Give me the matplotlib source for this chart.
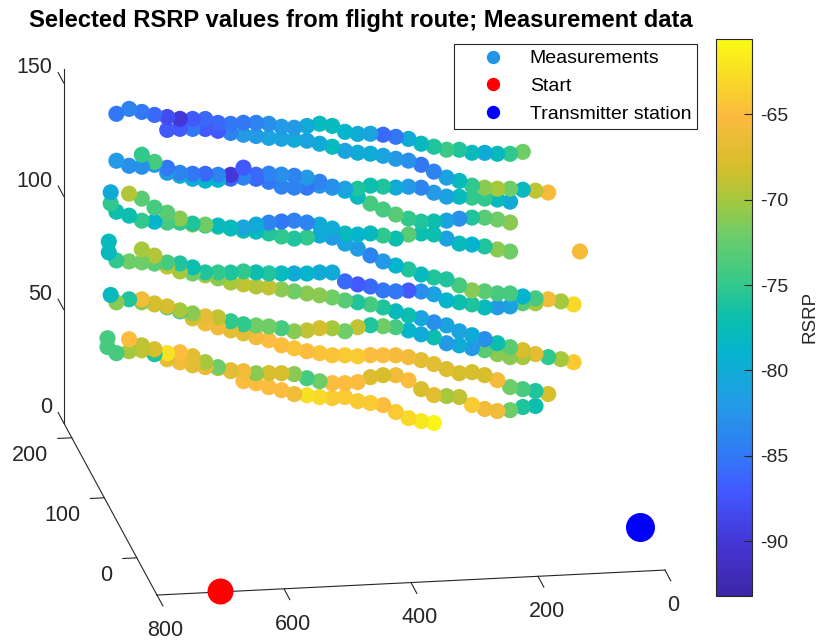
import numpy as np
import matplotlib
matplotlib.use('Agg')
import matplotlib.pyplot as plt
from matplotlib.colors import LinearSegmentedColormap
from matplotlib.lines import Line2D

plt.rcParams['font.family'] = ['Liberation Sans', 'DejaVu Sans']

# along-track position shared by the passes
x_pos = [800, 780, 760, 740, 720, 700, 680, 660, 640, 620, 600, 580, 560, 540, 520, 500, 480, 460, 440, 420,
         400, 380, 360, 340, 320, 300, 280, 260, 240, 220, 200, 180, 160, 140, 120, 100, 80, 60, 40, 20, 0]
y_route = 180

# index in x_pos where each pass begins, altitude and RSRP per pass
start_1 = 3
z_1 = [147.4, 149.3, 147.7, 146.1, 144.9, 143.8, 143.5, 143.2, 141.2, 140.5, 140.7, 140.4, 139.7, 138.1, 137.4, 137.9, 138.6,
       137.4, 134.5, 133.3, 133.1, 132.4, 131.2, 130, 127.6, 126, 124.4, 124.1, 122.5, 122.2, 121.5, 121.2, 121.8]
c_1 = [-85, -84, -85, -86, -88, -90, -87, -86, -86, -85, -85, -84, -83, -82, -82, -80, -78,
       -78, -79, -80, -81, -86, -85, -80, -78, -76, -74.5, -76, -78, -80, -78, -75, -72]
start_2 = 7
z_2 = [139.2, 139.4, 139.1, 138.8, 137.7, 136.5, 135.4, 134.6, 133.5, 132.8, 132.1, 131.4, 129.8, 128.2, 126.1, 125, 124.3,
       123.1, 121.5, 120.4, 118.3, 115, 112.1, 110.4, 108, 106.8, 106.1, 105.8, 105.1, 104.4, 103.3]
c_2 = [-87, -87, -85, -87, -87, -84, -82, -82, -81, -81, -80, -81, -80, -78, -81, -80, -80,
       -81, -82, -83, -85, -84, -81, -78, -75, -71, -70, -72, -78, -69, -65.5]
start_3 = 3
z_3 = [126.7, 124.2, 123.5, 124.1, 122.5, 120, 119.3, 119, 118.3, 118, 120.9, 117.5, 117.7, 117, 116.2, 115.1, 113,
       110.6, 109.4, 109.1, 110.2, 109.5, 108.8, 108.9, 108.2, 105.7, 103.7, 103.4, 102.7, 102, 101.3, 100.1]
c_3 = [-82, -83, -83, -82, -85, -84, -85, -86, -84, -90, -87, -86, -84, -83, -84, -82, -84,
       -83, -81, -76, -77, -76, -80, -82, -84, -82, -81, -78, -75, -75, -78, -80]
start_4 = 5
z_4 = [128.8, 125.4, 120.3, 118.7, 117.1, 116, 116.1, 116.3, 116.5, 115.7, 114.1, 111.7, 111, 110.7, 111.3,
       110.1, 108.5, 105.6, 102.3, 99.4, 96.9, 94.8, 93.2, 93, 93.1, 93.7, 93.9, 93.6, 92.5, 90.9]
c_4 = [-75, -74, -82, -80, -80, -79, -79, -86, -84, -86, -85, -84, -84, -85, -83,
       -81, -79, -78, -74, -74, -73, -75, -76, -77, -81, -83, -76, -73, -72, -71]
start_5 = 3
z_5 = [104.2, 102.2, 99.7, 99, 98.3, 98, 97.3, 96.6, 95.9, 94.7, 94.5, 95.5, 96.1, 96.3, 96.4, 95.3, 94.1,
       92.1, 89.6, 88.9, 89.1, 87.9, 86.3, 87.8, 88, 87.3, 85.2, 82.7, 82, 80.9, 79.3, 78.1]
c_5 = [-77, -77, -75, -79, -74, -75, -76, -72, -78, -78, -81, -80, -84, -85, -84, -84, -80,
       -80, -78, -79, -78, -75, -77, -73, -77, -77, -81, -78, -79, -76, -71, -72]
start_6 = 4
z_6 = [111.9, 109.4, 105.2, 102.7, 99.8, 96.9, 96.2, 95.4, 94.3, 93.1, 92.4, 91.3, 89.7, 88.5, 88.7, 89.3, 88.1, 85.2,
       82.7, 79.4, 76.5, 74.4, 72.4, 69.9, 68.3, 67.2, 64.3, 61.8, 61.1, 59.9, 59.6, 58, 56.9, 56.2, 55, 53.4]
c_6 = [-69.5, -73, -74, -73, -71, -70, -76, -75, -76, -77, -78, -76, -75, -76, -75, -80, -82, -81,
       -82, -84, -82, -79, -76, -78, -76, -76, -74, -71, -73, -74, -74, -79, -74, -66, -70, -63]
start_7 = 3
z_7 = [82.7, 82, 81.3, 80.5, 80.7, 80, 78, 75.5, 75.2, 74.9, 75.1, 74.4, 73.7, 73.4, 73.1, 72.8, 73, 72.7,
       68.5, 66.9, 65.7, 63.7, 63, 63.1, 62.4, 60.9, 57.9, 56.8, 55.6, 54, 53.8, 53.9, 55, 54.7]
c_7 = [-75, -72, -72, -73, -74, -76, -77, -76, -75, -76, -75, -77, -76, -78, -80, -79, -80, -80,
       -86, -87, -86, -85, -85, -87, -83, -81, -79, -77, -76, -78, -82, -81, -73, -70]
start_8 = 5
z_8 = [87, 84, 78.9, 76.5, 75.3, 74.2, 72.6, 70.5, 69.4, 68.2, 67.5, 66.4, 65.2, 64, 62.9, 61.7, 60.1,
       59, 57.8, 56.2, 54.2, 52.1, 50.6, 48.5, 46.9, 44, 42, 40, 37.9, 35.9, 34.3, 32.3, 30.7, 29.5, 27.9]
c_8 = [-70, -69.5, -69, -70, -72, -70, -71, -70, -69, -69.5, -69, -71, -72, -71, -71, -72, -73,
       -76, -74, -76, -78, -77, -81, -83, -81, -81, -80, -83, -77, -73, -68, -67, -75, -70, -64]
start_9 = 3
z_9 = [64.2, 65.3, 63.7, 62.5, 60.9, 58.9, 57.7, 56.1, 55.4, 53.4, 51.8, 51, 50.3, 49.2, 47.6, 47.7, 48.4, 48.1,
       46.5, 48, 48.6, 47.9, 47.2, 45.5, 43.5, 41.9, 39, 37.8, 36.3, 35.1, 33.1, 31.5, 31.2]
c_9 = [-71, -76, -71, -69, -75, -77, -71, -67, -69, -75, -75, -72, -72, -74, -71, -69, -68, -70,
       -72, -69, -76, -72, -74, -79, -80, -77, -82, -80, -82, -73, -71, -71, -70]
start_10 = 5
z_10 = [65, 62.9, 61.3, 59.3, 55.5, 53, 51, 49.4, 47.8, 45.8, 44.2, 41.7, 40.1, 38.5, 37.4, 36.2, 35.9,
        35.2, 35.4, 35.1, 34.8, 33.7, 32.1, 30.1, 27.6, 25.5, 25.7, 24.1, 21.6, 18.3, 17.1, 16, 14.4]
c_10 = [-66, -68, -68, -70, -68, -66, -66, -67, -67, -66, -65, -65, -64.5, -65, -64.5, -64.5, -64,
        -64, -65, -65, -65.5, -66, -67, -67, -67.5, -68, -68, -68, -65.5, -72, -74, -76, -68]
start_11 = 3
z_11 = [41.8, 42.4, 42.5, 40.5, 40.7, 40.8, 38.8, 35.9, 33.4, 31.8, 31.1, 29.9, 29.7, 29.4, 28.7, 26.6, 25,
        23.9, 23.6, 23.8, 25.7, 26.3, 26, 23.5, 19.3, 16.4, 15.7, 15, 11.2, 9.2, 8, 8.1, 9.2, 9.4]
c_11 = [-74, -70, -69, -76, -62.5, -65, -67, -70, -72, -67, -66, -71, -68, -68, -71, -74, -72,
        -65, -65, -65, -67.5, -68, -66, -65, -68, -67, -70, -69, -64, -66, -66, -72, -76, -77]
start_12 = 4
z_12 = [47.7, 44.7, 42.7, 38, 36.4, 34.8, 33.7, 33, 31.4, 26.7, 25.5, 23.5, 21.9, 19.9, 19.1, 18, 17.3, 17.5, 15.4,
        14.3, 13.1, 9.8, 6.8, 5.2, 4.1]
c_12 = [-65, -69, -68, -67, -66, -67, -66.5, -67, -67, -65, -65, -65, -65, -66, -62.5, -63, -64, -64, -64,
        -64, -65, -64, -63, -62, -61]

# first readings of each climb and the lone point far right
extra_x = [749, 749, 752, 752, 749, 754, 754, 10]
extra_z = [112.9, 108, 91.2, 86.4, 67.6, 48.6, 44.7, 76.6]
extra_c = [-80, -75, -78, -78, -78, -74, -74, -65.5]

start_xyz = (700, -60, 0)
station_xyz = (3, 10, 0)

x_ticks = [0, 200, 400, 600, 800]
y_ticks = [0, 100, 200]
z_ticks = [0, 50, 100, 150]
cbar_ticks = [-90, -85, -80, -75, -70, -65]
x_lim = (800, 0)
y_lim = (-62, 225)
z_lim = (0, 156)
c_lim = (-93.2, -60.6)

# colours as seen on the reference colorbar
cmap_stops = [(0.0, '#3e26a8'), (0.098, '#4437d7'), (0.19, '#415aff'), (0.25, '#3278f5'), (0.344, '#239be6'),
              (0.436, '#05b4cd'), (0.497, '#0abeaf'), (0.558, '#32c88c'), (0.65, '#6ecd69'), (0.712, '#a5c83c'),
              (0.773, '#d7be2d'), (0.865, '#fcbb3e'), (0.926, '#f8d728'), (1.0, '#f9fb14')]
parula = LinearSegmentedColormap.from_list('parula', cmap_stops)

W, H = 820, 644
dark = '#262626'
fig = plt.figure(figsize=(W / 100, H / 100), dpi=100)
side = 833.9
cx, cy = 353.05, 330.9
ax = fig.add_axes([(cx - side / 2) / W, (H - cy - side / 2) / H, side / W, side / H],
                  projection='3d', proj_type='ortho', computed_zorder=False)
ax.set_box_aspect((514.7, 579.2, 370.8))
ax.view_init(elev=17.54, azim=-99.27)
ax.set_xlim(*x_lim)
ax.set_ylim(*y_lim)
ax.set_zlim(*z_lim)
ax.set_xticks([])
ax.set_yticks([])
ax.set_zticks([])
ax.set_axis_off()
ax.patch.set_alpha(0)

# axis lines and ticks
ax.plot(x_lim, [y_lim[0]] * 2, [0, 0], color=dark, lw=0.8, zorder=1)
ax.plot([800, 800], y_lim, [0, 0], color=dark, lw=0.8, zorder=1)
ax.plot([800, 800], [y_lim[1]] * 2, z_lim, color=dark, lw=0.8, zorder=1)
for t in x_ticks:
    ax.plot([t, t], [y_lim[0], y_lim[0] - 18], [0, 0], color=dark, lw=0.8, zorder=1)
    ax.text(t + 16, y_lim[0] - 58, 0, str(t), fontsize=15.5, color=dark, ha='center', va='center')
for t in y_ticks:
    ax.plot([800, 822], [t, t], [0, 0], color=dark, lw=0.8, zorder=1)
    ax.text(838, t, -7.2, str(t), fontsize=15.5, color=dark, ha='right', va='center')
for t in z_ticks:
    ax.plot([800, 800], [y_lim[1], y_lim[1] + 17], [t, t], color=dark, lw=0.8, zorder=1)
    ax.text(805, y_lim[1] + 25, t, str(t), fontsize=15.5, color=dark, ha='right', va='center')

passes = [(start_1, z_1, c_1), (start_2, z_2, c_2), (start_3, z_3, c_3), (start_4, z_4, c_4),
          (start_5, z_5, c_5), (start_6, z_6, c_6), (start_7, z_7, c_7), (start_8, z_8, c_8),
          (start_9, z_9, c_9), (start_10, z_10, c_10), (start_11, z_11, c_11), (start_12, z_12, c_12)]
xs, zs, cs = list(extra_x), list(extra_z), list(extra_c)
for s, z, c in passes:
    assert len(z) == len(c), (s, len(z), len(c))
    xs += x_pos[s:s + len(z)]
    zs += z
    cs += c
sc = ax.scatter(xs, [y_route] * len(xs), zs, c=cs, cmap=parula, vmin=c_lim[0], vmax=c_lim[1],
                s=135, linewidths=0, depthshade=False, zorder=3)
ax.scatter(*start_xyz, s=350, color='#ff0000', linewidths=0, depthshade=False, zorder=4)
ax.scatter(*station_xyz, s=436, color='#0000ff', linewidths=0, depthshade=False, zorder=4)

fig.text(361 / W, 1 - 20.5 / H, 'Selected RSRP values from flight route; Measurement data',
         fontsize=17.1, fontweight='bold', color='black', ha='center', va='center')

cax = fig.add_axes([716 / W, (H - 596) / H, 36 / W, 557 / H])
cb = fig.colorbar(sc, cax=cax)
cb.set_ticks(cbar_ticks)
cb.set_ticklabels([str(t) for t in cbar_ticks])
cb.ax.tick_params(direction='in', length=6, width=0.8, color=dark, labelcolor=dark, labelsize=14, pad=6)
cb.outline.set_edgecolor(dark)
cb.outline.set_linewidth(0.8)
fig.text(810 / W, 1 - 317 / H, 'RSRP', rotation=90, fontsize=13.5, color=dark, ha='center', va='center')

handles = [Line2D([], [], ls='none', marker='o', ms=9.6, mec='none', mfc='#2196e6', label='Measurements'),
           Line2D([], [], ls='none', marker='o', ms=9.6, mec='none', mfc='#ff0000', label='Start'),
           Line2D([], [], ls='none', marker='o', ms=9.6, mec='none', mfc='#0000ff', label='Transmitter station')]
leg = fig.legend(handles=handles, loc='upper left', bbox_to_anchor=(454 / W, 1 - 44 / H), borderaxespad=0,
                 fontsize=14, frameon=True, fancybox=False, edgecolor=dark, framealpha=1,
                 labelspacing=0.52, handlelength=3.4, handletextpad=0.2, borderpad=0.3)
leg.get_frame().set_linewidth(0.8)

fig.savefig('out.png', dpi=100)
